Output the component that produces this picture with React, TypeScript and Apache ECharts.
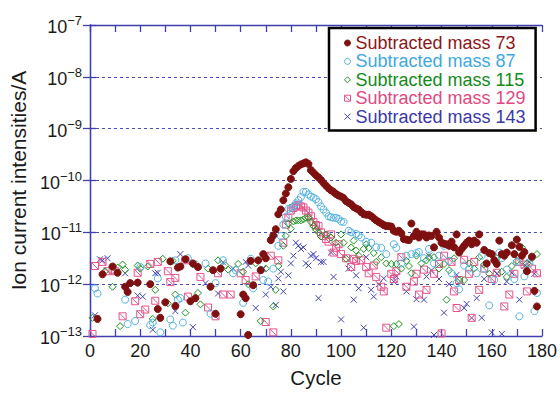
import React, { useEffect, useRef } from "react";
import * as echarts from "echarts";

// Each entry: [cycle, log10 of subtracted ion current in A]
const mass73: [number, number][] = [
  [3,-12.67],[5,-11.81],[9,-11.66],[11,-11.78],[14,-12.05],[15,-12.15],[16,-11.98],[19,-11.97],[24,-12.0],[27,-12.48],
  [28,-12.65],[30,-12.35],[32,-11.56],[34,-12.42],[35,-11.68],[36,-11.66],[38,-11.52],[40,-12.33],[41,-11.6],[42,-12.27],
  [43,-11.67],[48,-12.05],[49,-11.73],[50,-12.57],[52,-11.7],[60,-12.58],[61,-12.2],[62,-12.27],[63,-12.98],[64,-11.55],
  [65,-12.02],[67,-11.54],[68,-11.73],[69,-11.42],[70,-11.5],[72,-11.15],[73,-11.06],[74,-10.94],[75,-10.65],[76,-10.56],
  [77,-10.38],[78,-10.25],[79,-10.13],[80,-9.97],[81,-9.82],[82,-9.76],[83,-9.72],[84,-9.69],[85,-9.67],[86,-9.65],
  [87,-9.68],[88,-9.8],[89,-9.85],[90,-9.9],[91,-9.94],[92,-9.99],[93,-10.05],[94,-10.1],[95,-10.15],[96,-10.19],
  [97,-10.22],[98,-10.26],[99,-10.29],[100,-10.31],[101,-10.34],[102,-10.4],[103,-10.43],[104,-10.46],[105,-10.51],[106,-10.54],
  [107,-10.56],[108,-10.61],[109,-10.65],[110,-10.66],[111,-10.66],[112,-10.69],[113,-10.73],[114,-10.77],[115,-10.8],[116,-10.83],
  [117,-10.86],[118,-10.88],[119,-10.88],[120,-10.89],[121,-10.97],[122,-10.99],[123,-10.97],[124,-11.02],[125,-11.13],[126,-11.14],
  [127,-11.15],[128,-10.83],[129,-11.07],[130,-10.99],[131,-11.1],[132,-11.04],[133,-11.04],[134,-11.1],[135,-11.06],[136,-11.07],
  [137,-11.29],[138,-10.99],[139,-11.1],[140,-11.2],[141,-11.22],[142,-11.23],[143,-11.26],[144,-11.18],[145,-11.29],[146,-11.04],
  [147,-11.39],[148,-11.32],[149,-11.26],[150,-11.2],[151,-11.16],[152,-11.23],[153,-11.16],[154,-11.2],[155,-11.04],[157,-11.34],
  [158,-11.6],[159,-11.4],[160,-11.42],[161,-11.54],[162,-11.61],[163,-11.16],[164,-11.42],[165,-11.45],[166,-11.39],[168,-11.25],
  [169,-11.42],[170,-11.14],[171,-11.28],[172,-11.45],[173,-11.38],[174,-11.75],[176,-11.47],[177,-12.13],[178,-12.43],
];

const mass87: [number, number][] = [
  [2,-12.08],[3,-12.18],[14,-12.3],[15,-12.77],[18,-12.71],[20,-11.67],[24,-12.79],[25,-12.74],[27,-11.89],[28,-12.93],
  [32,-12.68],[33,-12.8],[34,-11.54],[35,-12.3],[36,-12.27],[37,-12.74],[39,-11.5],[42,-11.62],[46,-11.6],[48,-12.57],
  [50,-11.98],[53,-11.54],[57,-11.79],[58,-11.73],[61,-12.36],[64,-11.51],[65,-12.08],[68,-11.73],[69,-11.92],[71,-11.95],
  [73,-11.7],[75,-11.26],[76,-11.07],[77,-10.85],[78,-10.7],[79,-10.55],[80,-10.53],[81,-10.5],[82,-10.44],[83,-10.38],
  [84,-10.32],[85,-10.22],[86,-10.22],[87,-10.27],[88,-10.31],[89,-10.33],[90,-10.36],[91,-10.42],[92,-10.5],[93,-10.56],
  [94,-10.62],[95,-10.69],[96,-10.71],[97,-10.72],[98,-10.72],[99,-10.74],[100,-10.79],[101,-10.8],[103,-10.97],[104,-11.0],
  [106,-11.03],[107,-11.06],[108,-11.1],[110,-11.18],[112,-11.2],[114,-11.29],[116,-11.3],[118,-11.42],[121,-11.23],[122,-11.3],
  [124,-11.6],[126,-11.45],[128,-11.42],[130,-11.4],[131,-11.38],[133,-11.5],[135,-11.32],[137,-11.6],[139,-11.45],[141,-11.26],
  [143,-11.55],[144,-11.79],[146,-11.98],[147,-12.1],[149,-11.64],[151,-11.7],[154,-11.79],[156,-11.45],[157,-11.7],[159,-12.41],
  [161,-11.92],[163,-11.39],[164,-11.5],[166,-11.72],[169,-11.9],[170,-11.57],[171,-12.62],[173,-11.85],[175,-11.6],[177,-12.52],
  [178,-12.17],
];

const mass115: [number, number][] = [
  [1,-12.65],[6,-11.75],[9,-12.05],[11,-11.68],[12,-12.81],[13,-11.62],[14,-11.72],[19,-11.64],[20,-11.7],[23,-11.66],
  [25,-12.67],[26,-12.11],[29,-11.51],[31,-12.37],[33,-11.55],[34,-12.2],[38,-12.55],[41,-11.62],[43,-12.17],[44,-12.39],
  [47,-11.7],[51,-11.54],[54,-11.64],[55,-11.72],[59,-11.61],[61,-11.76],[63,-12.0],[66,-11.6],[68,-12.71],[70,-11.7],
  [73,-12.43],[74,-12.11],[75,-11.65],[77,-11.26],[78,-11.07],[79,-10.83],[80,-10.93],[81,-10.79],[82,-10.77],[83,-10.77],
  [84,-10.77],[85,-10.75],[86,-10.72],[87,-10.72],[88,-10.8],[89,-10.88],[90,-10.95],[91,-11.0],[92,-11.08],[94,-11.04],
  [96,-11.1],[98,-11.2],[100,-11.04],[101,-11.2],[102,-11.51],[104,-11.29],[105,-11.16],[106,-11.35],[107,-11.45],[109,-11.32],
  [110,-11.23],[111,-11.3],[113,-11.4],[114,-11.57],[116,-11.48],[118,-11.6],[120,-11.61],[121,-12.81],[122,-11.61],[123,-12.77],
  [124,-11.7],[126,-11.55],[127,-11.65],[128,-11.79],[130,-11.45],[132,-11.6],[134,-11.54],[135,-11.48],[137,-11.48],[139,-11.7],
  [141,-11.61],[142,-12.3],[143,-11.73],[145,-11.5],[147,-11.92],[149,-11.92],[151,-11.6],[153,-11.7],[155,-11.48],[157,-11.62],
  [159,-11.8],[162,-11.5],[164,-11.76],[166,-11.86],[168,-11.65],[170,-11.55],[172,-11.29],[174,-11.6],[176,-11.5],[178,-11.42],
];

const mass129: [number, number][] = [
  [1,-12.96],[2,-11.65],[5,-11.57],[7,-11.75],[9,-11.72],[10,-11.75],[13,-12.62],[18,-12.33],[19,-11.78],[20,-12.58],
  [22,-12.49],[24,-11.61],[26,-12.32],[27,-11.57],[31,-11.75],[32,-11.96],[34,-11.88],[38,-11.54],[39,-12.24],[44,-11.86],
  [47,-12.45],[50,-12.62],[51,-11.79],[53,-12.2],[56,-12.2],[60,-11.79],[62,-11.92],[66,-11.85],[70,-12.73],[72,-11.45],
  [73,-12.93],[75,-11.54],[77,-11.2],[78,-10.85],[79,-10.72],[80,-10.58],[81,-10.53],[82,-10.5],[83,-10.47],[84,-10.5],
  [85,-10.52],[86,-10.58],[87,-10.62],[88,-10.69],[89,-10.8],[90,-10.86],[91,-10.88],[92,-11.0],[93,-11.07],[94,-11.13],
  [95,-11.18],[96,-11.04],[97,-11.39],[98,-11.3],[99,-11.23],[100,-11.42],[102,-11.5],[104,-11.67],[105,-11.51],[106,-11.55],
  [108,-11.54],[110,-11.67],[111,-11.79],[113,-11.64],[114,-11.86],[116,-12.05],[117,-12.14],[118,-12.84],[120,-11.8],[121,-11.9],
  [122,-11.75],[124,-11.48],[126,-12.05],[129,-11.95],[130,-11.8],[131,-12.2],[133,-11.72],[134,-12.11],[137,-11.8],[139,-11.61],
  [140,-12.95],[141,-11.45],[144,-11.57],[145,-12.14],[146,-12.46],[147,-11.92],[149,-11.53],[151,-11.8],[152,-12.65],[153,-11.57],
  [155,-12.11],[157,-11.7],[160,-11.9],[162,-11.78],[165,-12.43],[167,-12.2],[169,-11.8],[171,-11.57],[173,-11.62],[174,-12.14],
  [176,-11.7],[178,-11.79],
];

const mass143: [number, number][] = [
  [2,-12.6],[4,-11.52],[5,-11.54],[7,-11.5],[14,-11.79],[19,-12.22],[21,-12.24],[25,-12.88],[26,-11.79],[27,-11.78],
  [34,-12.52],[36,-11.42],[41,-12.83],[46,-11.98],[51,-12.18],[53,-11.58],[57,-11.7],[62,-11.57],[63,-11.64],[66,-12.46],
  [69,-11.7],[70,-12.2],[72,-12.05],[74,-12.4],[75,-11.89],[76,-11.76],[77,-12.14],[79,-11.83],[80,-11.6],[81,-11.45],
  [82,-11.2],[83,-11.26],[84,-11.32],[85,-11.29],[86,-11.6],[87,-11.64],[88,-11.45],[89,-11.42],[90,-11.5],[91,-12.27],
  [92,-11.57],[93,-11.57],[96,-11.39],[97,-11.86],[100,-12.68],[103,-11.7],[105,-12.3],[106,-11.83],[107,-12.08],[109,-12.84],
  [110,-11.48],[112,-12.11],[113,-12.24],[115,-12.0],[117,-11.89],[121,-11.95],[122,-11.85],[126,-12.14],[129,-12.82],[130,-12.29],
  [133,-12.3],[134,-11.85],[135,-11.45],[136,-11.73],[137,-12.98],[139,-11.9],[141,-12.55],[143,-12.0],[146,-11.82],[149,-12.46],
  [150,-12.38],[152,-12.65],[154,-12.27],[156,-12.65],[157,-11.9],[160,-12.93],[162,-11.8],[164,-12.96],[166,-11.95],[168,-11.78],
  [171,-12.3],[173,-11.65],[175,-11.57],[177,-11.8],
];

const seriesNames = [
  "Subtracted mass 73",
  "Subtracted mass 87",
  "Subtracted mass 115",
  "Subtracted mass 129",
  "Subtracted mass 143",
];

const xTicks = { min: 0, max: 180, step: 20 };
const yDecades = { min: -13, max: -7 };

const FONT = "'Liberation Sans', Arial, Helvetica, sans-serif";
const AXIS_BLUE = "#3f3fae";
const SUP_MINUS = "\u2212";

const SQUARE_X = "path://M0,0 L10,0 L10,10 L0,10 Z M0,0 L10,10";
const CROSS = "path://M0,0 L10,10 M10,0 L0,10";

const toPoints = (rows: [number, number][]) =>
  rows.map(([c, e]) => [c, Math.pow(10, e)]);

const styles = [
  { symbol: "circle", size: 7, fill: "#7e1010", stroke: "#7e1010", text: "#8a1717" },
  { symbol: "circle", size: 7, fill: "rgba(0,0,0,0)", stroke: "#52b2e2", text: "#3ea8df" },
  { symbol: "diamond", size: 7, fill: "rgba(0,0,0,0)", stroke: "#1f951f", text: "#138a1c" },
  { symbol: SQUARE_X, size: 7, fill: "rgba(0,0,0,0)", stroke: "#e5558c", text: "#e04a82" },
  { symbol: CROSS, size: 6, fill: "rgba(0,0,0,0)", stroke: "#4444b4", text: "#3939a8" },
];

const allData = [mass73, mass87, mass115, mass129, mass143];

export default function App() {
  const ref = useRef<HTMLDivElement>(null);

  useEffect(() => {
    if (!ref.current) return;
    const chart = echarts.init(ref.current, null, { renderer: "svg" });

    const axisLine = { show: true, lineStyle: { color: AXIS_BLUE, width: 1.3 } };
    const tickStyle = { color: AXIS_BLUE, width: 1.3 };

    const series = allData
      .map((rows, i) => ({
        name: seriesNames[i],
        type: "scatter",
        data: toPoints(rows),
        symbol: styles[i].symbol,
        symbolSize: styles[i].size,
        itemStyle: {
          color: styles[i].fill,
          borderColor: styles[i].stroke,
          borderWidth: 1,
          opacity: 1,
        },
        z: 10 - i,
      }))
      .reverse();

    chart.setOption({
      animation: false,
      textStyle: { fontFamily: FONT },
      grid: { left: 89, right: 17, top: 25, bottom: 51 },
      legend: {
        orient: "vertical",
        left: 329,
        top: 28,
        backgroundColor: "#ffffff",
        borderColor: "#000000",
        borderWidth: 2.5,
        borderRadius: 0,
        padding: [6, 10, 5, 15],
        itemGap: 0.4,
        itemWidth: 6,
        itemHeight: 6,
        textStyle: { fontSize: 18, lineHeight: 15, fontFamily: FONT },
        data: seriesNames.map((name, i) => ({
          name,
          icon: styles[i].symbol,
          itemStyle: {
            color: styles[i].fill,
            borderColor: styles[i].stroke,
            borderWidth: 1,
          },
          textStyle: { color: styles[i].text },
        })),
      },
      xAxis: [
        {
          type: "value",
          position: "bottom",
          min: xTicks.min,
          max: xTicks.max,
          interval: xTicks.step,
          axisLine,
          axisTick: { show: true, inside: true, length: 7, lineStyle: tickStyle },
          minorTick: { show: true, splitNumber: 2, length: 7, lineStyle: tickStyle },
          axisLabel: { fontSize: 18, color: "#1a1a1a", margin: 6, fontFamily: FONT },
          splitLine: { show: false },
          name: "Cycle",
          nameLocation: "middle",
          nameGap: 31,
          nameTextStyle: { fontSize: 20.5, color: "#1a1a1a", fontFamily: FONT },
        },
        {
          type: "value",
          position: "top",
          min: xTicks.min,
          max: xTicks.max,
          interval: xTicks.step,
          axisLine,
          axisTick: { show: true, inside: true, length: 7, lineStyle: tickStyle },
          minorTick: { show: true, splitNumber: 2, length: 7, lineStyle: tickStyle },
          axisLabel: { show: false },
          splitLine: { show: false },
        },
      ],
      yAxis: [
        {
          type: "log",
          logBase: 10,
          position: "left",
          min: Math.pow(10, yDecades.min),
          max: Math.pow(10, yDecades.max),
          interval: 1,
          splitNumber: 6,
          axisLine,
          axisTick: { show: true, inside: true, length: 6, lineStyle: tickStyle },
          splitLine: {
            show: true,
            lineStyle: { color: "#4a4ab4", width: 1, type: [3, 3] },
          },
          axisLabel: {
            margin: 8,
            color: "#1a1a1a",
            fontFamily: FONT,
            formatter: (v: number) => {
              const e = Math.round(Math.log10(v));
              return `{b|10}{s|${SUP_MINUS}${-e}}`;
            },
            rich: {
              b: { fontSize: 18, lineHeight: 22, verticalAlign: "bottom", fontFamily: FONT, color: "#1a1a1a" },
              s: { fontSize: 13, lineHeight: 14, verticalAlign: "top", fontFamily: FONT, color: "#1a1a1a" },
            },
          },
          name: "Ion current intensities/A",
          nameLocation: "middle",
          nameGap: 56,
          nameTextStyle: { fontSize: 21, color: "#1a1a1a", fontFamily: FONT },
        },
        {
          type: "log",
          logBase: 10,
          position: "right",
          min: Math.pow(10, yDecades.min),
          max: Math.pow(10, yDecades.max),
          interval: 1,
          splitNumber: 6,
          axisLine,
          axisTick: { show: true, inside: true, length: 7, lineStyle: tickStyle },
          axisLabel: { show: false },
          splitLine: { show: false },
        },
      ],
      series,
    });

    return () => chart.dispose();
  }, []);

  return (
    <div
      ref={ref}
      style={{ position: "fixed", left: 0, top: 0, width: 560, height: 393, background: "#fff" }}
    />
  );
}
